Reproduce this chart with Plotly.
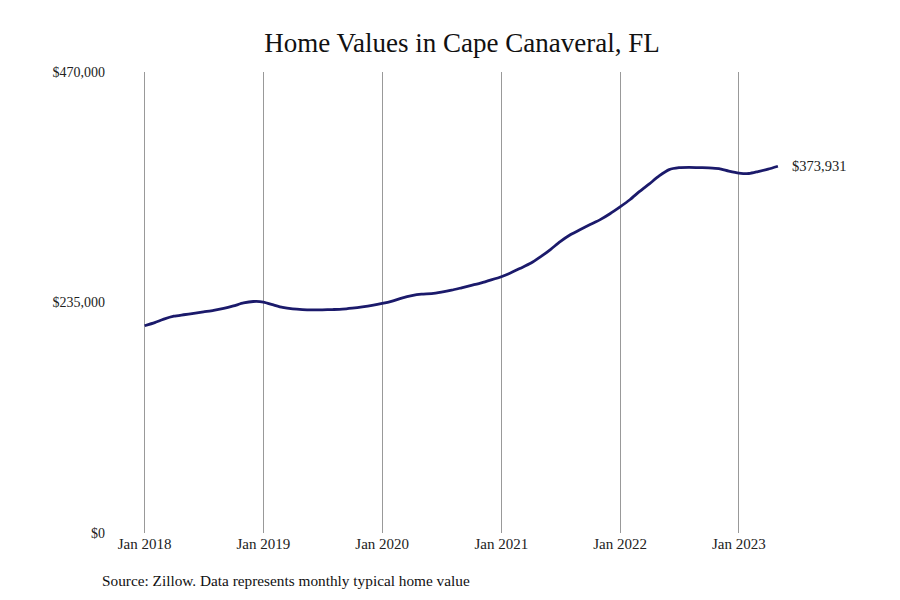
import plotly.graph_objects as go

months = [f"{y}-{m:02d}-01" for y in range(2018, 2024) for m in range(1, 13)][:65]

values = [
    211300, 214500, 218000, 221000, 222500, 224000, 225500, 227000, 229000, 231500, 234500, 236000,
    235500, 232500, 230000, 228500, 227800, 227500, 227500, 227800, 228200, 229200, 230500, 232000,
    234000, 236500, 239500, 242000, 243500, 244000, 245500, 247500, 250000, 252500, 255000, 258000,
    261300, 265500, 270000, 275000, 281500, 289000, 297000, 304000, 309500, 314500, 319500, 325500,
    332500, 340000, 348000, 356000, 364000, 370500, 372500, 372800, 372500, 372300, 371500, 369000,
    367000, 366500, 368500, 371000, 373931,
]

tick_vals = ["2018-01-01", "2019-01-01", "2020-01-01", "2021-01-01", "2022-01-01", "2023-01-01"]
tick_text = ["Jan 2018", "Jan 2019", "Jan 2020", "Jan 2021", "Jan 2022", "Jan 2023"]
y_ticks = [0, 235000, 470000]
y_text = ["$0", "$235,000", "$470,000"]

title = "Home Values in Cape Canaveral, FL"
source = "Source: Zillow. Data represents monthly typical home value"

FONT = "Liberation Serif"
LINE = "#1b1a6b"

# page has an 8px body margin; figure is sized to fit inside the 900x600 window
OFF = 8
W, H = 900 - 2 * OFF, 600 - 2 * OFF
PLOT_X0 = 142.5          # left edge of plot area (a few days before Jan 2018)
L, T = round(PLOT_X0 - OFF), 72 - OFF
PW, PH = round(788 - PLOT_X0), 533 - 72
R, B = W - L - PW, H - T - PH

fig = go.Figure()
fig.add_trace(go.Scatter(
    x=months, y=values, mode="lines",
    line=dict(color=LINE, width=2.8, shape="spline", smoothing=0.6),
    hoverinfo="skip", showlegend=False, cliponaxis=False,
))

fig.add_annotation(
    x=months[-1], y=values[-1], text=f"${values[-1]:,}",
    xanchor="left", yanchor="middle", xshift=12, showarrow=False,
    font=dict(family=FONT, size=14.5, color="#222222"),
)

fig.add_annotation(
    x=(100 - PLOT_X0) / PW, y=(533 - 580) / PH, xref="paper", yref="paper",
    text=source, showarrow=False, xanchor="left", yanchor="middle",
    font=dict(family=FONT, size=15.3, color="#111111"),
)

fig.update_layout(
    width=W, height=H,
    paper_bgcolor="white", plot_bgcolor="white",
    margin=dict(l=L, r=R, t=T, b=B),
    title=dict(text=title, x=(462 - OFF) / W, xanchor="center", y=1 - (43 - OFF) / H, yanchor="middle",
               xref="container", yref="container",
               font=dict(family=FONT, size=27, color="#111111")),
    font=dict(family=FONT, color="#222222"),
)

fig.update_xaxes(
    range=["2017-12-24", "2023-06-01"],
    tickvals=tick_vals, ticktext=tick_text,
    showgrid=True, gridcolor="#999999", gridwidth=1,
    showline=False, zeroline=False, ticks="",
    tickfont=dict(family=FONT, size=15, color="#222222"),
)

fig.update_yaxes(
    range=[0, 470000], tickvals=y_ticks, ticktext=y_text,
    showgrid=False, zeroline=False, showline=False, ticks="",
    ticklabelstandoff=36,
    tickfont=dict(family=FONT, size=14, color="#222222"),
)

fig.write_html("out.html")
